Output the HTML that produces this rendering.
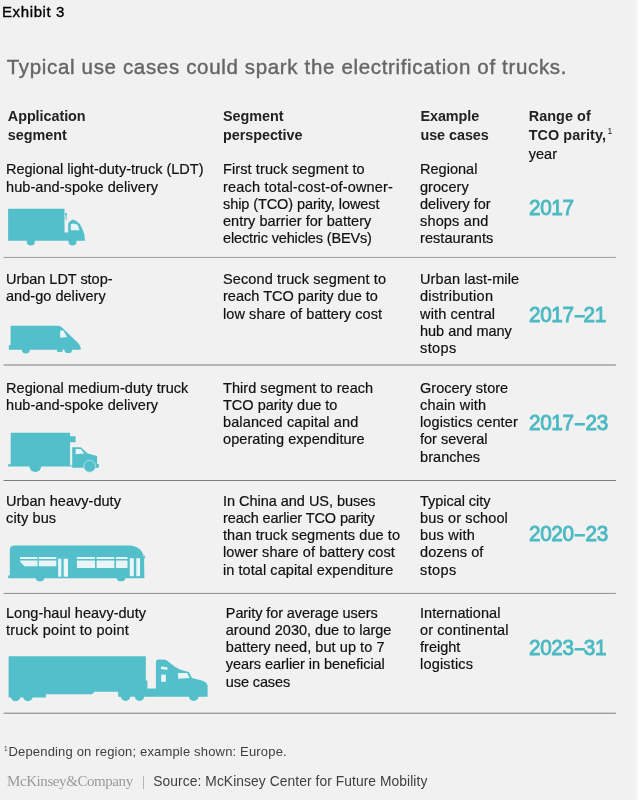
<!DOCTYPE html>
<html><head><meta charset="utf-8">
<style>
html,body{margin:0;padding:0;}
body{width:640px;height:800px;background:#f1f1f1;position:relative;overflow:hidden;font-family:"Liberation Sans",Arial,sans-serif;color:#1a1a1a;}
.t{position:absolute;white-space:nowrap;font-size:14.5px;line-height:17.25px;letter-spacing:0.05px;color:#111;-webkit-text-stroke:0.2px #111;}
.t span{display:block;}
.h{font-weight:bold;font-size:14.4px;letter-spacing:-0.05px;-webkit-text-stroke:0;line-height:18.7px;color:#222;}
.yr{position:absolute;font-size:22.5px;font-weight:normal;-webkit-text-stroke:0.95px #4bb9c2;color:#4bb9c2;white-space:nowrap;line-height:24px;transform:scaleX(0.92);letter-spacing:-0.42px;transform-origin:0 0;}
.ln{position:absolute;left:3.5px;width:612.5px;height:1px;background:#a8a8a8;}
.yr i{font-style:normal;display:inline-block;transform:scaleX(0.82);margin:0 -0.6px 0 0.4px;}
svg{position:absolute;}
</style></head><body>
<div style="position:absolute;left:636px;top:0;width:4px;height:800px;background:linear-gradient(to right,#f1f1f1 0,#fbfbfb 40%,#fff 70%);"></div>
<div class="t" style="left:2px;top:3px;font-size:15px;letter-spacing:0.62px;word-spacing:-0.2px;color:#000;-webkit-text-stroke:0.35px #000;">Exhibit 3</div>
<div class="t" style="left:6.8px;top:55.4px;font-size:20.5px;letter-spacing:0.66px;line-height:24px;color:#666;-webkit-text-stroke:0.4px #666;">Typical use cases could spark the electrification of trucks.</div>

<div class="t h" style="left:7.8px;top:107.3px;">Application<br>segment</div>
<div class="t h" style="left:223px;top:107.3px;">Segment<br>perspective</div>
<div class="t h" style="left:420.4px;top:107.3px;">Example<br>use cases</div>
<div class="t h" style="left:528.7px;top:107.3px;letter-spacing:0.07px;">Range of<br>TCO parity,<span style="display:inline;font-weight:normal;font-size:8.5px;position:relative;top:-5.6px;left:1.6px;color:#222;">1</span></div>
<div class="t" style="left:528.7px;top:146.3px;">year</div>
<div class="t" style="left:6px;top:161.4px;"><span id="l0_0" style="letter-spacing:0.003px">Regional light-duty-truck (LDT)</span><span id="l0_1" style="letter-spacing:0.065px">hub-and-spoke delivery</span></div>
<div class="t" style="left:223px;top:161.4px;"><span id="l1_0" style="letter-spacing:0.107px">First truck segment to</span><span id="l1_1" style="letter-spacing:0.190px">reach total-cost-of-owner-</span><span id="l1_2" style="letter-spacing:-0.084px">ship (TCO) parity, lowest</span><span id="l1_3" style="letter-spacing:0.033px">entry barrier for battery</span><span id="l1_4" style="letter-spacing:-0.146px">electric vehicles (BEVs)</span></div>
<div class="t" style="left:420px;top:161.4px;"><span id="l2_0" style="letter-spacing:0.022px">Regional</span><span id="l2_1" style="letter-spacing:0.050px">grocery</span><span id="l2_2" style="letter-spacing:-0.031px">delivery for</span><span id="l2_3" style="letter-spacing:0.164px">shops and</span><span id="l2_4" style="letter-spacing:0.070px">restaurants</span></div>
<div class="t" style="left:6px;top:271.2px;"><span id="l3_0" style="letter-spacing:-0.029px">Urban LDT stop-</span><span id="l3_1" style="letter-spacing:0.035px">and-go delivery</span></div>
<div class="t" style="left:223px;top:271.2px;"><span id="l4_0" style="letter-spacing:0.118px">Second truck segment to</span><span id="l4_1" style="letter-spacing:0.019px">reach TCO parity due to</span><span id="l4_2" style="letter-spacing:0.079px">low share of battery cost</span></div>
<div class="t" style="left:420px;top:271.2px;"><span id="l5_0" style="letter-spacing:0.113px">Urban last-mile</span><span id="l5_1" style="letter-spacing:0.259px">distribution</span><span id="l5_2" style="letter-spacing:0.158px">with central</span><span id="l5_3" style="letter-spacing:-0.004px">hub and many</span><span id="l5_4" style="letter-spacing:0.400px">stops</span></div>
<div class="t" style="left:6px;top:379.55px;"><span id="l6_0" style="letter-spacing:0.074px">Regional medium-duty truck</span><span id="l6_1" style="letter-spacing:0.065px">hub-and-spoke delivery</span></div>
<div class="t" style="left:223px;top:379.55px;"><span id="l7_0" style="letter-spacing:0.050px">Third segment to reach</span><span id="l7_1" style="letter-spacing:-0.001px">TCO parity due to</span><span id="l7_2" style="letter-spacing:0.118px">balanced capital and</span><span id="l7_3" style="letter-spacing:0.065px">operating expenditure</span></div>
<div class="t" style="left:420px;top:379.55px;"><span id="l8_0" style="letter-spacing:0.026px">Grocery store</span><span id="l8_1" style="letter-spacing:0.183px">chain with</span><span id="l8_2" style="letter-spacing:0.124px">logistics center</span><span id="l8_3" style="letter-spacing:-0.010px">for several</span><span id="l8_4" style="letter-spacing:0.064px">branches</span></div>
<div class="t" style="left:6px;top:492.55px;"><span id="l9_0" style="letter-spacing:0.029px">Urban heavy-duty</span><span id="l9_1" style="letter-spacing:0.136px">city bus</span></div>
<div class="t" style="left:223px;top:492.55px;"><span id="l10_0" style="letter-spacing:-0.027px">In China and US, buses</span><span id="l10_1" style="letter-spacing:-0.116px">reach earlier TCO parity</span><span id="l10_2" style="letter-spacing:0.082px">than truck segments due to</span><span id="l10_3" style="letter-spacing:0.069px">lower share of battery cost</span><span id="l10_4" style="letter-spacing:0.069px">in total capital expenditure</span></div>
<div class="t" style="left:420px;top:492.55px;"><span id="l11_0" style="letter-spacing:-0.041px">Typical city</span><span id="l11_1" style="letter-spacing:0.133px">bus or school</span><span id="l11_2" style="letter-spacing:0.235px">bus with</span><span id="l11_3" style="letter-spacing:0.061px">dozens of</span><span id="l11_4" style="letter-spacing:0.400px">stops</span></div>
<div class="t" style="left:6px;top:604.55px;"><span id="l12_0" style="letter-spacing:0.030px">Long-haul heavy-duty</span><span id="l12_1" style="letter-spacing:0.228px">truck point to point</span></div>
<div class="t" style="left:225.8px;top:604.55px;"><span id="l13_0" style="letter-spacing:-0.088px">Parity for average users</span><span id="l13_1" style="letter-spacing:-0.021px">around 2030, due to large</span><span id="l13_2" style="letter-spacing:0.062px">battery need, but up to 7</span><span id="l13_3" style="letter-spacing:-0.054px">years earlier in beneficial</span><span id="l13_4" style="letter-spacing:-0.114px">use cases</span></div>
<div class="t" style="left:420px;top:604.55px;"><span id="l14_0" style="letter-spacing:0.050px">International</span><span id="l14_1" style="letter-spacing:0.103px">or continental</span><span id="l14_2" style="letter-spacing:0.016px">freight</span><span id="l14_3" style="letter-spacing:0.186px">logistics</span></div>

<div class="yr" style="left:528.9px;top:196px;">2017</div>
<div class="yr" style="left:528.9px;top:303px;">2017<i style="margin-right:-1.5px">–</i>21</div>
<div class="yr" style="left:528.9px;top:411px;">2017<i style="margin-right:0.6px">–</i>23</div>
<div class="yr" style="left:528.9px;top:522px;">2020<i style="margin-right:0.6px">–</i>23</div>
<div class="yr" style="left:528.9px;top:636px;">2023<i style="margin-right:-1.3px">–</i>31</div>

<svg width="640" height="800" viewBox="0 0 640 800" style="left:0;top:0;"><g fill="#7c7c7c"><rect x="3.6" y="256.9" width="612.3" height="1" fill="#9c9c9c"/><rect x="3.6" y="364.5" width="612.3" height="1"/><rect x="3.6" y="480" width="612.3" height="1"/><rect x="3.6" y="592.9" width="612.3" height="1" fill="#8c8c8c"/><rect x="3.6" y="712.7" width="612.3" height="1"/></g></svg>
<div class="t" style="left:4px;top:739.5px;font-size:6.5px;color:#444;-webkit-text-stroke:0;">1</div>
<div class="t" style="left:8.5px;top:743.2px;font-size:13px;letter-spacing:0.17px;color:#404040;-webkit-text-stroke:0;">Depending on region; example shown: Europe.</div>
<div class="t" style="left:7px;top:772.6px;font-family:'Liberation Serif',serif;font-size:15px;letter-spacing:-0.42px;color:#9a9a9a;-webkit-text-stroke:0;">McKinsey&amp;Company</div>
<div style="position:absolute;left:143px;top:776px;width:1px;height:13px;background:#b5b5b5;"></div>
<div class="t" style="left:153.3px;top:772.8px;font-size:13.8px;letter-spacing:0.08px;color:#404040;-webkit-text-stroke:0;">Source: McKinsey Center for Future Mobility</div>
<svg width="640" height="800" viewBox="0 0 640 800" style="left:0;top:0;">
<g fill="#53bfcb">
<!-- truck 1 -->
<path d="M8.1,208.8H64.5V232.5H68.2V223.6L70,221.3L72.7,219.4L76,220.8L80,224.3L82.6,229.5L84.5,235L84.9,240.8H8.1Z"/>
<circle cx="30.8" cy="241.4" r="4"/><circle cx="72.5" cy="241.4" r="4"/>
<circle cx="66" cy="214.2" r="1.1"/><rect x="65.6" y="214" width="1" height="6"/>
<!-- van -->
<path d="M10.6,325.7H58.6L61.2,326.7L78.6,343.6L80.7,347.4V349.8H8.9V345H10.6Z"/>
<circle cx="25.8" cy="349.4" r="4"/><circle cx="68.3" cy="349.2" r="3.9"/><rect x="57" y="349" width="5.5" height="3" rx="1"/>
<!-- truck 3 -->
<path d="M10.7,432.7H70.1V436.2H75.6V442.2H70.1V465.4H72.2V447.3H80.8L87.7,453.4L97.1,455.9V464H98.8V467.8H72.2V466.6H8.1V464.2H10.7Z"/>
<circle cx="35.3" cy="466" r="6"/><circle cx="89.7" cy="466.3" r="5.9" stroke="#cdebef" stroke-width="0.7"/>
<!-- bus -->
<path d="M14.5,545.5H129Q142,546 144,557.5L144.4,578.3H8.2V575.6H9.8V550Q9.8,545.5 14.5,545.5Z"/>
<ellipse cx="40" cy="578.2" rx="4.2" ry="3.1"/><ellipse cx="121" cy="578.2" rx="4.2" ry="3.1"/>
<rect x="144.2" y="555.6" width="0.9" height="3.2"/>
<!-- long haul -->
<path d="M8.6,656.2H145.8V680.4H147.4V688.6H155.9V662Q155.9,659.6 158.2,659.5L165.8,659.8L175.6,667.2L180.5,669.7L188.8,672.1L192,677.9L201.9,680.4L206,682.6L207.6,685.5V696.8H118.2V691.8H94.5L92,694.3H46V697.6H8.6Z"/>
<circle cx="15.6" cy="696.3" r="4.9"/><circle cx="27.9" cy="696.3" r="4.9"/>
<circle cx="125.6" cy="696.2" r="4.8"/><circle cx="139.5" cy="696.2" r="4.8"/>
<circle cx="193.7" cy="696.1" r="4.9"/>
</g>
<g fill="#eaf5f7">
<!-- truck1 window -->
<path d="M70.8,224.2L73.5,223.6L77.6,224.8L79.6,230.3H70.8Z"/>
<!-- van window -->
<path d="M60.2,330.6H63.3L67.2,336.9L60.2,337.7Z"/>
<!-- truck3 window -->
<path d="M75.6,449.1H80.8L84.2,453.4L75.6,454.2Z"/>
<!-- bus windows -->
<path d="M20,557H37.5V559H20ZM20,560.5H37.5V566.3H24.4L20,561.6Z"/>
<path d="M38.8,557H56.3V559H38.8ZM38.8,560.5H56.3V566.3H38.8Z"/>
<rect x="58.1" y="558.7" width="3.2" height="18"/><rect x="63.7" y="558.7" width="4.3" height="18"/>
<path d="M76.9,557H95V559H76.9ZM76.9,560.5H95V568.1H76.9Z"/>
<path d="M96.6,557H114.4V559H96.6ZM96.6,560.5H114.4V568.1H96.6Z"/>
<path d="M116,557H127.5V559H116ZM116,560.5H127.5V568.1H116Z"/>
<rect x="129.8" y="558.2" width="4" height="18"/><rect x="136.3" y="558.2" width="3.7" height="18"/>
<!-- long haul windows -->
<path d="M160.9,666.4L167.4,667.2V669.9L160.9,669.1Z"/>
<rect x="161.2" y="674.6" width="4.7" height="7.2"/>
<path d="M178.1,673H187.1L189.6,677.9L178.1,678.7Z"/>
</g>
</svg>
</body></html>
